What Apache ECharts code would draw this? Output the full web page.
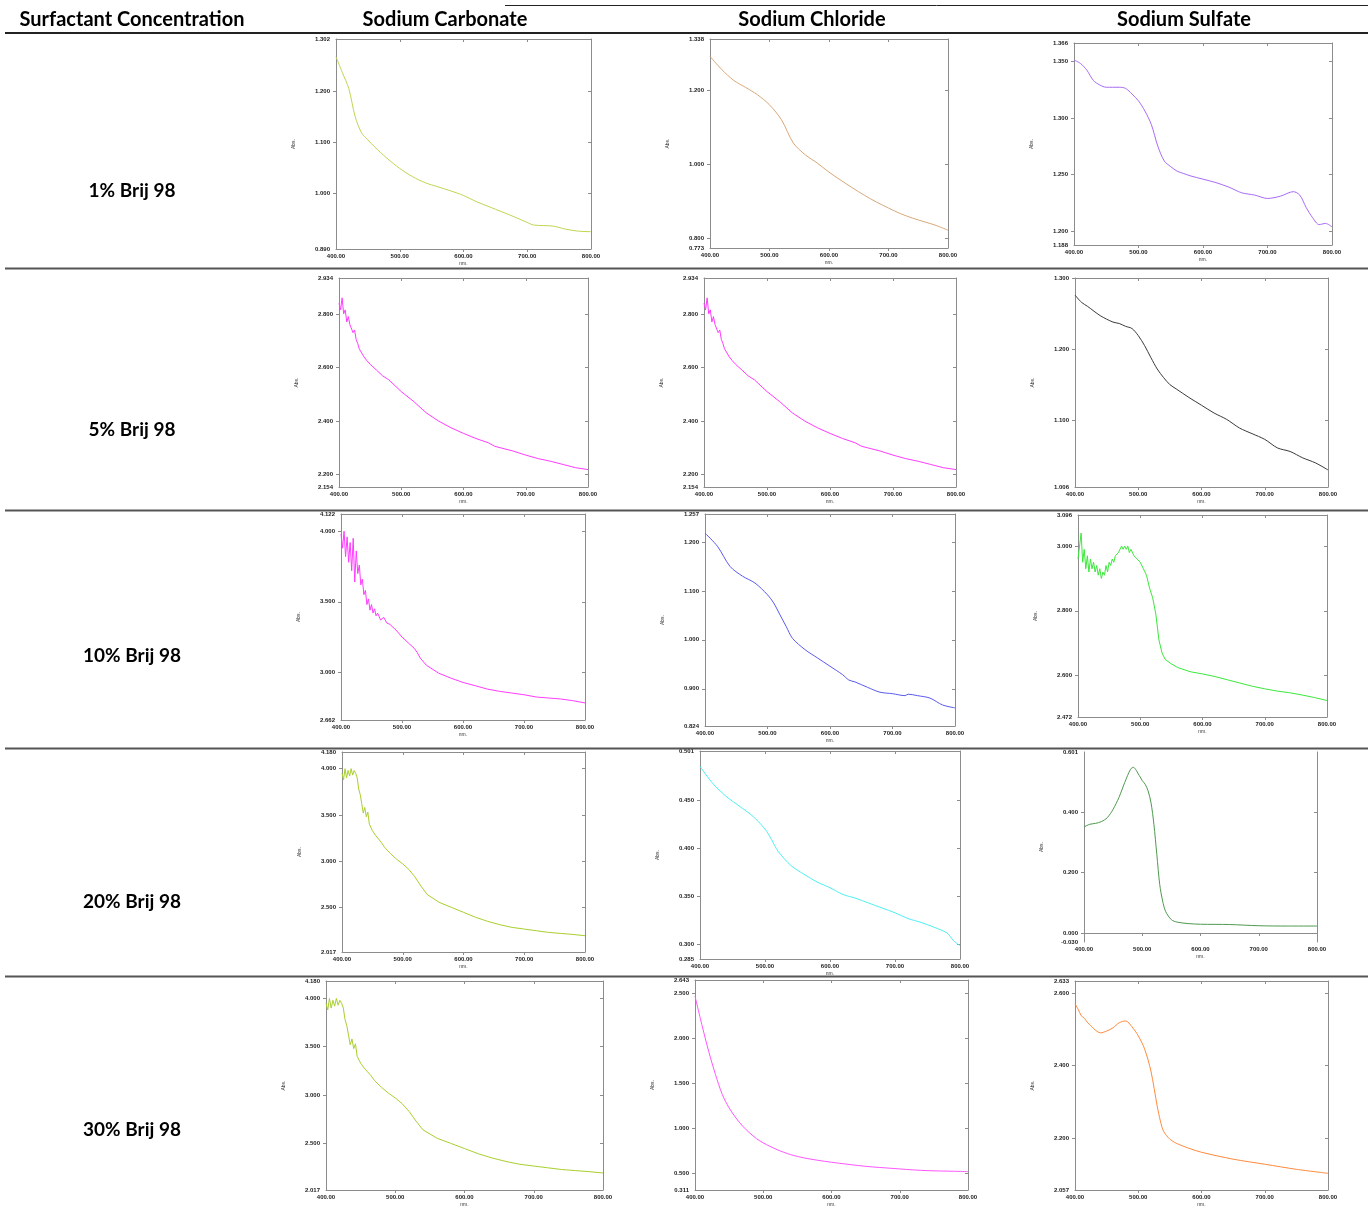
<!DOCTYPE html>
<html>
<head>
<meta charset="utf-8">
<script src="https://cdn.jsdelivr.net/npm/echarts@6/dist/echarts.min.js"></script>
<style>
html, body { margin: 0; padding: 0; background: #fff; }
#report { width: 1368px; height: 1222px; }
</style>
</head>
<body>
<div id="report"></div>
<script>
// table text
var headers = ['Surfactant Concentration', 'Sodium Carbonate', 'Sodium Chloride', 'Sodium Sulfate'];
var rowLabels = ['1% Brij 98', '5% Brij 98', '10% Brij 98', '20% Brij 98', '30% Brij 98'];
var xTicks = [400, 500, 600, 700, 800];

// 1% Brij 98
var nm_Carb1 = [400,410,420,430,440,450,460,480,500,520,540,560,580,600,620,640,660,680,700,710,740,760,780,800];
var abs_Carb1 = [1.267,1.236,1.205,1.150,1.118,1.104,1.091,1.068,1.048,1.032,1.020,1.012,1.004,0.995,0.983,0.973,0.963,0.953,0.942,0.937,0.935,0.929,0.925,0.924];
var nm_Cl1 = [400,420,440,460,480,500,520,540,560,580,600,620,640,660,680,700,720,740,760,780,800];
var abs_Cl1 = [1.291,1.255,1.226,1.207,1.187,1.160,1.120,1.057,1.025,1.003,0.978,0.956,0.935,0.915,0.897,0.881,0.866,0.854,0.844,0.834,0.821];
var nm_Sul1 = [400,410,420,430,440,450,460,470,480,490,500,510,520,530,540,550,560,570,580,600,620,640,660,680,700,720,740,750,760,770,780,790,800];
var abs_Sul1 = [1.351,1.348,1.342,1.333,1.329,1.327,1.327,1.327,1.326,1.321,1.315,1.306,1.294,1.275,1.262,1.257,1.253,1.251,1.249,1.246,1.243,1.239,1.234,1.232,1.229,1.231,1.235,1.232,1.221,1.212,1.206,1.207,1.204];

// 5% Brij 98
var nm_Carb5 = [400,402.5,405,407.5,410,412.5,415,417.5,420,422.5,425,427.5,430,432.5,435,437.5,440,445,450,460,470,480,500,520,540,560,580,600,620,640,650,660,680,700,720,740,760,780,800];
var abs_Carb5 = [2.840,2.815,2.860,2.800,2.815,2.770,2.790,2.760,2.765,2.730,2.740,2.705,2.690,2.670,2.665,2.650,2.640,2.625,2.612,2.591,2.569,2.554,2.510,2.473,2.431,2.400,2.375,2.354,2.335,2.319,2.306,2.300,2.288,2.273,2.260,2.250,2.238,2.226,2.219];
var nm_Cl5 = nm_Carb5;     // the two 5% traces are the same in the source
var abs_Cl5 = abs_Carb5;
var nm_Sul5 = [400,410,420,440,460,470,480,490,500,510,520,530,540,550,560,580,600,620,640,660,680,700,720,740,760,780,800];
var abs_Sul5 = [1.276,1.266,1.260,1.247,1.238,1.236,1.232,1.229,1.219,1.205,1.188,1.172,1.160,1.150,1.144,1.132,1.121,1.110,1.101,1.089,1.081,1.073,1.061,1.056,1.047,1.040,1.030];

// 10% Brij 98
var nm_Carb10 = [400,402.5,405,407.5,410,412.5,415,417.5,420,422.5,425,427.5,430,432.5,435,437.5,440,442.5,445,447.5,450,452.5,455,457.5,460,465,470,475,480,490,500,510,520,525,530,540,560,580,600,620,640,660,680,700,720,740,760,780,800];
var abs_Carb10 = [3.98,3.88,4.00,3.82,3.96,3.78,3.92,3.72,3.95,3.64,3.86,3.70,3.76,3.62,3.66,3.55,3.58,3.48,3.52,3.44,3.48,3.42,3.45,3.40,3.42,3.37,3.39,3.35,3.34,3.30,3.25,3.21,3.17,3.14,3.10,3.05,2.994,2.959,2.928,2.905,2.881,2.865,2.853,2.841,2.825,2.818,2.811,2.799,2.783];
var nm_Cl10 = [400,420,440,460,480,500,510,520,530,540,560,580,600,620,630,640,660,680,700,720,725,740,760,780,800];
var abs_Cl10 = [1.218,1.191,1.150,1.130,1.116,1.092,1.075,1.051,1.027,1.003,0.980,0.963,0.946,0.929,0.918,0.914,0.903,0.893,0.890,0.886,0.889,0.886,0.881,0.867,0.861];
var nm_Sul10 = [400,402.5,405,407.5,410,412.5,415,417.5,420,422.5,425,427.5,430,432.5,435,437.5,440,442.5,445,447.5,450,452.5,455,457.5,460,462.5,465,467.5,470,472.5,475,477.5,480,482.5,485,490,495,500,505,510,515,520,525,530,535,540,550,560,580,600,620,640,660,680,700,720,740,760,780,800];
var abs_Sul10 = [2.96,3.00,3.04,2.95,2.99,2.93,2.97,2.92,2.96,2.93,2.95,2.92,2.94,2.91,2.93,2.90,2.92,2.91,2.94,2.92,2.95,2.94,2.96,2.95,2.97,2.97,2.98,2.98,3.00,2.99,3.00,2.99,3.00,2.98,2.99,2.97,2.96,2.95,2.93,2.91,2.87,2.84,2.79,2.71,2.67,2.65,2.636,2.625,2.612,2.605,2.597,2.587,2.577,2.567,2.559,2.552,2.547,2.540,2.532,2.523];

// 20% Brij 98
var nm_Carb20 = [400,402.5,405,407.5,410,412.5,415,417.5,420,422.5,425,427.5,430,432.5,435,437.5,440,442.5,445,450,455,460,465,470,480,490,500,510,520,530,540,560,580,600,620,640,660,680,700,720,740,760,780,800];
var abs_Carb20 = [3.95,3.88,4.00,3.90,3.98,3.92,4.00,3.93,3.98,3.95,3.90,3.78,3.72,3.62,3.52,3.58,3.48,3.53,3.40,3.33,3.28,3.24,3.20,3.15,3.08,3.02,2.97,2.91,2.83,2.73,2.64,2.554,2.500,2.446,2.392,2.348,2.312,2.283,2.265,2.247,2.229,2.218,2.207,2.193];
var nm_Cl20 = [400,420,440,460,480,500,510,520,540,560,580,600,620,640,660,680,700,720,740,760,780,790,800];
var abs_Cl20 = [0.485,0.467,0.454,0.444,0.434,0.420,0.409,0.397,0.382,0.373,0.365,0.359,0.352,0.348,0.343,0.338,0.333,0.327,0.323,0.318,0.312,0.304,0.299];
var nm_Sul20 = [400,410,420,430,440,450,460,470,480,485,490,500,505,510,515,520,525,530,535,540,550,560,580,600,650,700,750,800];
var abs_Sul20 = [0.352,0.361,0.364,0.370,0.383,0.411,0.450,0.500,0.544,0.550,0.539,0.506,0.494,0.472,0.433,0.361,0.261,0.161,0.106,0.072,0.044,0.036,0.031,0.029,0.028,0.024,0.023,0.023];

// 30% Brij 98
var nm_Carb30 = nm_Carb20;   // same trace as 20% in the source
var abs_Carb30 = abs_Carb20;
var nm_Cl30 = [400,410,420,430,440,450,460,470,480,490,500,520,540,560,580,600,620,640,660,680,700,720,740,760,780,800];
var abs_Cl30 = [2.463,2.148,1.852,1.593,1.371,1.222,1.111,1.019,0.945,0.882,0.834,0.760,0.704,0.667,0.641,0.619,0.600,0.582,0.567,0.556,0.545,0.534,0.526,0.522,0.519,0.515];
var nm_Sul30 = [400,405,410,415,420,425,430,435,440,450,460,470,480,490,500,510,520,530,535,540,550,560,580,600,650,700,750,800];
var abs_Sul30 = [2.570,2.555,2.537,2.530,2.518,2.510,2.501,2.494,2.490,2.495,2.504,2.518,2.523,2.507,2.482,2.446,2.385,2.288,2.247,2.219,2.197,2.186,2.172,2.161,2.142,2.128,2.114,2.103];

// y axis range [min, max] and round tick values for each panel (row by row)
var yRanges = [[0.890,1.302],[0.773,1.338],[1.188,1.366],
               [2.154,2.934],[2.154,2.934],[1.006,1.300],
               [2.662,4.122],[0.824,1.257],[2.472,3.096],
               [2.017,4.180],[0.285,0.501],[-0.030,0.601],
               [2.017,4.180],[0.311,2.643],[2.057,2.633]];
var yTicks = [[1.0,1.1,1.2],[0.8,1.0,1.2],[1.2,1.25,1.3,1.35],
              [2.2,2.4,2.6,2.8],[2.2,2.4,2.6,2.8],[1.1,1.2,1.3],
              [3.0,3.5,4.0],[0.9,1.0,1.1,1.2],[2.6,2.8,3.0],
              [2.5,3.0,3.5,4.0],[0.30,0.35,0.40,0.45],[0.0,0.2,0.4],
              [2.5,3.0,3.5,4.0],[0.5,1.0,1.5,2.0,2.5],[2.2,2.4,2.6]];

var traces = [[nm_Carb1,abs_Carb1],[nm_Cl1,abs_Cl1],[nm_Sul1,abs_Sul1],
              [nm_Carb5,abs_Carb5],[nm_Cl5,abs_Cl5],[nm_Sul5,abs_Sul5],
              [nm_Carb10,abs_Carb10],[nm_Cl10,abs_Cl10],[nm_Sul10,abs_Sul10],
              [nm_Carb20,abs_Carb20],[nm_Cl20,abs_Cl20],[nm_Sul20,abs_Sul20],
              [nm_Carb30,abs_Carb30],[nm_Cl30,abs_Cl30],[nm_Sul30,abs_Sul30]];

// layout and style
var boxes = [[336,39,591,249],[710,39,948,248],[1074,43,1332,245],
             [339,278,588,487],[704,278,956,487],[1075,278,1328,487],
             [341,514,585,720],[705,514,955,726],[1078,515,1327,717],
             [342,752,585,952],[700,751,960,959],[1084,752,1317,942],
             [326,981,603,1190],[695,980,968,1190],[1075,981,1328,1190]];
var colors = ['#c2d552','#d8a878','#a86af5',
              '#ff3cff','#ff3cff','#3a3a3a',
              '#ff3cff','#5a5af0','#3ce83c',
              '#a9cf2e','#4ff0f0','#4e9a4e',
              '#a9cf2e','#ff55ff','#ff8a3c'];
var noisy = [false,false,false,true,true,false,true,false,true,true,false,false,true,false,false];

var frameColor = '#8c8c8c';
var labelStyle = { fontSize: 6, color: '#222', fontFamily: 'Liberation Sans', fontWeight: 'bold' };

var grids = [], xAxes = [], yAxes = [], series = [];
boxes.forEach(function (b, i) {
    grids.push({ left: b[0], top: b[1], width: b[2] - b[0], height: b[3] - b[1], show: false });
    var lo = yRanges[i][0], hi = yRanges[i][1];
    var labels = [lo].concat(yTicks[i].filter(function (v) { return Math.abs(v - hi) > 1e-9; }), [hi]);
    xAxes.push({
        gridIndex: i, type: 'value', min: 400, max: 800, position: 'bottom',
        axisLine: { lineStyle: { color: frameColor, width: 1 } },
        axisTick: { customValues: [500, 600, 700], length: 3, lineStyle: { color: frameColor } },
        axisLabel: Object.assign({ customValues: xTicks, margin: 4, formatter: function (v) { return v.toFixed(2); } }, labelStyle),
        splitLine: { show: false },
        name: 'nm.', nameLocation: 'middle', nameGap: 12,
        nameTextStyle: { fontSize: 5, color: '#333', fontFamily: 'Liberation Sans' }
    });
    xAxes.push({
        gridIndex: i, type: 'value', min: 400, max: 800, position: 'top',
        axisLine: { lineStyle: { color: frameColor, width: 1 } },
        axisTick: { inside: true, customValues: [500, 600, 700], length: 3, lineStyle: { color: frameColor } },
        axisLabel: { show: false }, splitLine: { show: false }
    });
    yAxes.push({
        gridIndex: i, type: 'value', min: lo, max: hi, position: 'left',
        axisLine: { show: true, lineStyle: { color: frameColor, width: 1 } },
        axisTick: { show: true, customValues: yTicks[i], length: 3, lineStyle: { color: frameColor } },
        axisLabel: Object.assign({ customValues: labels, margin: 6, formatter: function (v) { return v.toFixed(3); } }, labelStyle),
        splitLine: { show: false },
        name: 'Abs.', nameLocation: 'middle', nameRotate: 90, nameGap: 40,
        nameTextStyle: { fontSize: 5, color: '#333', fontFamily: 'Liberation Sans' }
    });
    yAxes.push({
        gridIndex: i, type: 'value', min: lo, max: hi, position: 'right',
        axisLine: { show: true, lineStyle: { color: frameColor, width: 1 } },
        axisTick: { show: true, inside: true, customValues: yTicks[i], length: 3, lineStyle: { color: frameColor } },
        axisLabel: { show: false }, splitLine: { show: false }
    });
    var nm = traces[i][0], ab = traces[i][1];
    series.push({
        type: 'line', xAxisIndex: 2 * i, yAxisIndex: 2 * i,
        data: nm.map(function (x, j) { return [x, ab[j]]; }),
        showSymbol: false, smooth: noisy[i] ? false : 0.3,
        lineStyle: { color: colors[i], width: 1 }, silent: true
    });
});

// table rules and text
var graphics = [];
function hline(y, x1, w, c) {
    graphics.push({ type: 'line', shape: { x1: x1, y1: y, x2: 1368, y2: y }, style: { stroke: c, lineWidth: w }, z: 100 });
}
hline(5.5, 505, 1, '#222');
hline(33, 5, 2, '#222');
[268.5, 510.5, 748.5, 976.5].forEach(function (y) { hline(y, 5, 2, '#555'); });

var headerX = [132, 445, 812, 1184];
headers.forEach(function (t, k) {
    graphics.push({ type: 'text', x: headerX[k], y: 20, style: { text: t, textAlign: 'center', textVerticalAlign: 'middle', font: 'bold 20px Lato', fill: '#000' } });
});
var rowY = [191, 430, 656, 902, 1130];
rowLabels.forEach(function (t, k) {
    graphics.push({ type: 'text', x: 132, y: rowY[k], style: { text: t, textAlign: 'center', textVerticalAlign: 'middle', font: 'bold 19px Lato', fill: '#000' } });
});

var option = {
    backgroundColor: '#fff',
    animation: false,
    grid: grids,
    xAxis: xAxes,
    yAxis: yAxes,
    series: series,
    graphic: graphics
};

var myChart = echarts.init(document.getElementById('report'), null, { renderer: 'canvas' });
myChart.setOption(option);
</script>
</body>
</html>
